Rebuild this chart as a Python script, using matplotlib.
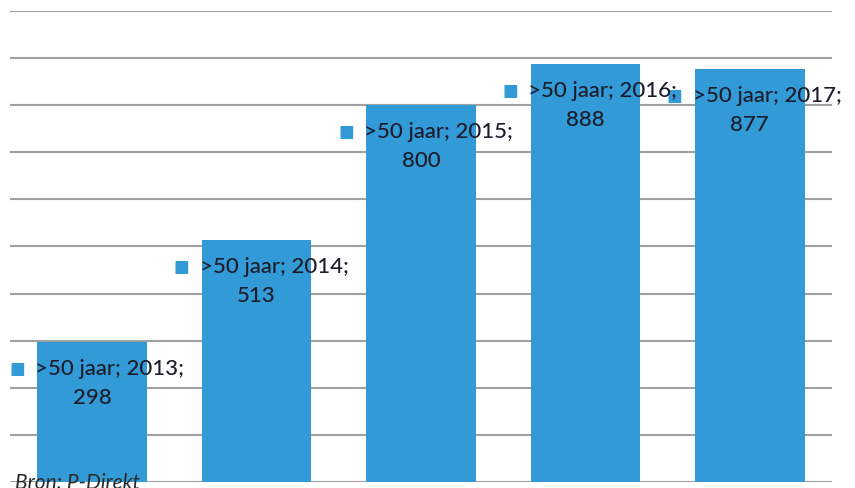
import matplotlib
matplotlib.use("Agg")
from matplotlib import pyplot as plt

jaren = ['2013', '2014', '2015', '2016', '2017']
aantal = [298, 513, 800, 888, 877]
reeks = '>50 jaar'
bron = 'Bron: P-Direkt'

blauw = '#339ad8'
tekst = '#1c1c2a'

plt.rcParams['font.family'] = ['Lato', 'DejaVu Sans']

fig = plt.figure(figsize=(8.55, 4.88), dpi=100)
ax = fig.add_axes([10 / 855, 6 / 488, 822 / 855, 471 / 488])

x = list(range(len(jaren)))
ax.bar(x, aantal, width=0.667, color=blauw, zorder=2)

ax.set_xlim(-0.5, len(jaren) - 0.5)
ax.set_ylim(0, 1000)
ax.set_yticks(range(0, 1001, 100))
ax.yaxis.grid(True, color='#a0a0a0', linewidth=1.5, zorder=0)
ax.set_axisbelow(True)
ax.tick_params(left=False, bottom=False, labelleft=False, labelbottom=False)
for s in ax.spines.values():
    s.set_visible(False)

for i, (jaar, v) in enumerate(zip(jaren, aantal)):
    # marker square + first line, value below
    ax.annotate('■', xy=(i, v), xytext=(-75, -27), textcoords='offset pixels',
                ha='center', va='center', color=blauw, fontsize=12,
                family=['DejaVu Sans'], zorder=4)
    ax.annotate(f'{reeks}; {jaar};', xy=(i, v), xytext=(-57, -27),
                textcoords='offset pixels', ha='left', va='center',
                color=tekst, fontsize=16, fontweight='medium', zorder=5)
    ax.annotate(str(v), xy=(i, v), xytext=(0, -56), textcoords='offset pixels',
                ha='center', va='center', color=tekst, fontsize=16,
                fontweight='medium', zorder=5)

fig.text(15 / 855, 15 / 488, bron, ha='left', va='top', style='italic',
         color='#2a2a2a', fontsize=15)

fig.savefig('out.png', dpi=100)
